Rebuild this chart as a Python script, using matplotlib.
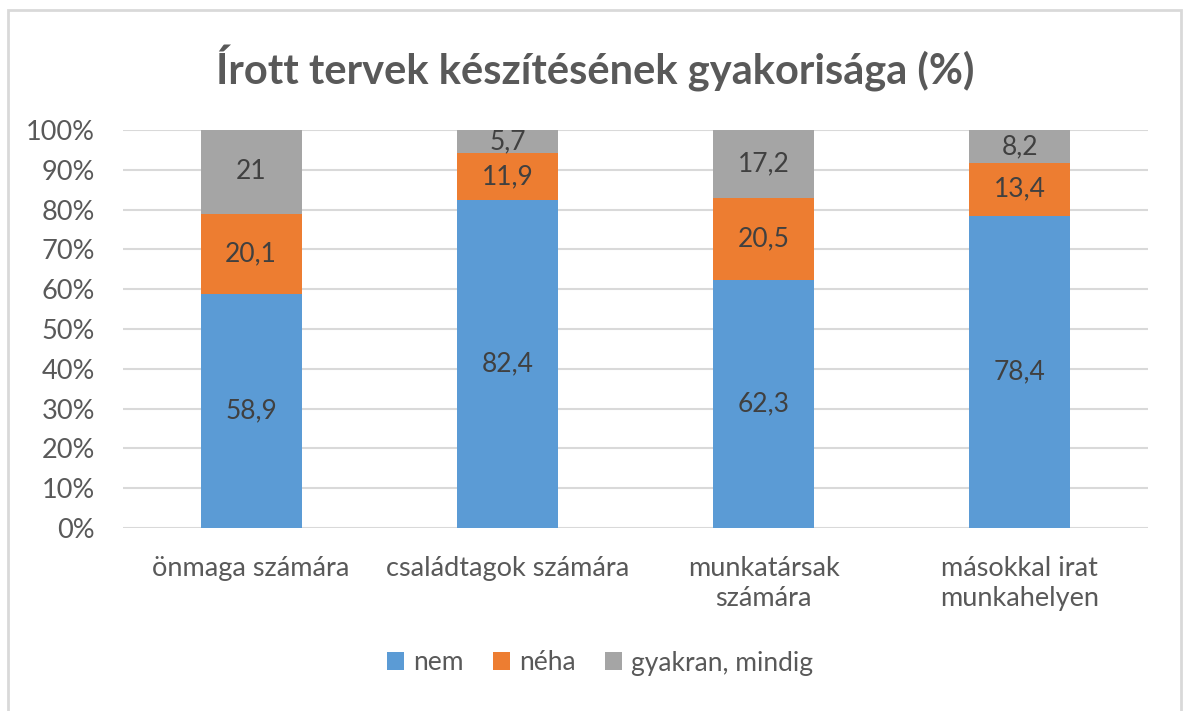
import matplotlib
matplotlib.use("Agg")
import matplotlib.pyplot as plt
import numpy as np
from matplotlib.patches import Rectangle

plt.rcParams["font.family"] = ["Lato", "DejaVu Sans"]

# ── Data
categories = ["önmaga számára", "családtagok számára", "munkatársak\nszámára", "másokkal irat\nmunkahelyen"]
series_names = ["nem", "néha", "gyakran, mindig"]
nem = [58.9, 82.4, 62.3, 78.4]
neha = [20.1, 11.9, 20.5, 13.4]
gyakran = [21, 5.7, 17.2, 8.2]
labels_nem = ["58,9", "82,4", "62,3", "78,4"]
labels_neha = ["20,1", "11,9", "20,5", "13,4"]
labels_gyakran = ["21", "5,7", "17,2", "8,2"]

C = {"nem": "#5B9BD5", "neha": "#ED7D31", "gyak": "#A5A5A5",
     "grid": "#D9D9D9", "text": "#595959", "lab": "#404040"}

W, H = 1183, 711
fig = plt.figure(figsize=(W / 100, H / 100), dpi=100)
fig.patch.set_facecolor("white")

# chart-area border
fig.patches.append(Rectangle((8 / W, -0.05), (1181 - 8) / W, (H - 10) / H + 0.05,
                             transform=fig.transFigure, fill=False,
                             edgecolor=C["grid"], lw=2))

ax = fig.add_axes([123 / W, (H - 528) / H, (1148 - 123) / W, (528 - 130) / H])

x = np.arange(len(categories))
w = 0.395
bottoms = np.zeros(len(categories))
for vals, labs, col, name in [(nem, labels_nem, C["nem"], series_names[0]),
                              (neha, labels_neha, C["neha"], series_names[1]),
                              (gyakran, labels_gyakran, C["gyak"], series_names[2])]:
    vals = np.array(vals, dtype=float)
    ax.bar(x, vals, w, bottom=bottoms, color=col, label=name, zorder=3)
    for xi, b, v, t in zip(x, bottoms, vals, labs):
        ax.text(xi, b + v / 2, t, ha="center", va="center", fontsize=19,
                color=C["lab"], zorder=4)
    bottoms += vals

ax.set_xlim(-0.5, len(categories) - 0.5)
ax.set_ylim(0, 100)
ax.set_yticks(np.arange(0, 101, 10))
ax.set_yticklabels([f"{v}%" for v in range(0, 101, 10)])
ax.set_xticks(x)
ax.set_xticklabels(categories, linespacing=1.25)
ax.tick_params(axis="both", length=0, labelsize=19.5, colors=C["text"])
ax.tick_params(axis="y", pad=20)
ax.tick_params(axis="x", pad=20)
ax.grid(axis="y", color=C["grid"], lw=1.5, zorder=0)
for s in ax.spines.values():
    s.set_visible(False)

fig.text(595 / W, 1 - 68 / H, "Írott tervek készítésének gyakorisága (%)",
         ha="center", va="center", fontsize=30, fontweight="bold", color=C["text"])

leg = fig.legend(loc="center", bbox_to_anchor=(600 / W, 1 - 663 / H), ncol=3,
                 frameon=False, fontsize=19, handlelength=0.65, handleheight=0.65,
                 handletextpad=0.35, columnspacing=1.1)
for t in leg.get_texts():
    t.set_color(C["text"])

fig.savefig("out.png", dpi=100)
